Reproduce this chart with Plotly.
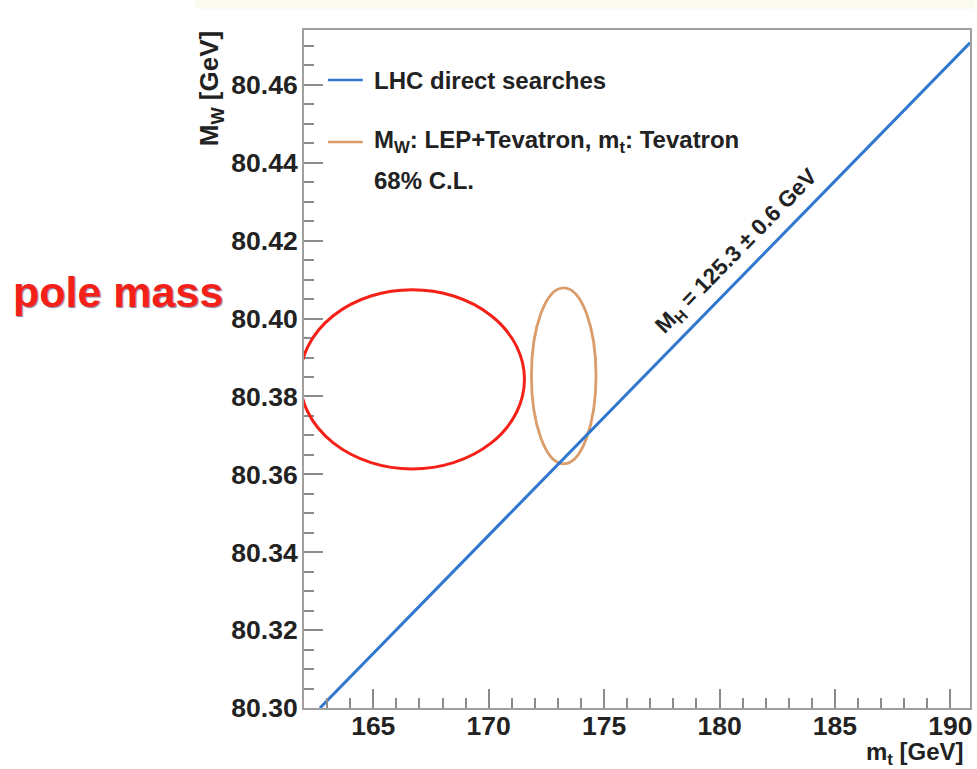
import plotly.graph_objects as go

# --- data -------------------------------------------------------------
# LHC direct searches: M_H = 125.3 +- 0.6 GeV line in the (m_t, M_W) plane
higgs_mt = [162.69, 190.85]
higgs_mw = [80.300, 80.4708]

# M_W (LEP+Tevatron), m_t (Tevatron) 68% C.L. ellipse: centre and half-axes
tev_center = [173.25, 80.3853]
tev_halfaxes = [1.40, 0.0226]

# "pole mass" region marked in red: centre and half-axes
pole_center = [166.69, 80.3844]
pole_halfaxes = [4.86, 0.0230]

# label position for the Higgs line
higgs_label_pos = [180.75, 80.4172]

x_range = [162.0, 190.85]
y_range = [80.300, 80.4741]
x_ticks = [165, 170, 175, 180, 185, 190]
y_ticks = [80.30, 80.32, 80.34, 80.36, 80.38, 80.40, 80.42, 80.44, 80.46]

# --- styling ----------------------------------------------------------
FONT = "Liberation Sans, Arial, Helvetica, sans-serif"
TXT = "#222222"
BLUE = "#2f77cf"
ORANGE = "#d99c6a"
RED = "#f52018"

# plot area in pixels
L, R, T, B = 304, 5, 30, 61
W, H = 977, 769
PW, PH = W - L - R, H - T - B


def px(xp):
    return (xp - L) / PW


def py(yp):
    return (H - B - yp) / PH


fig = go.Figure()

fig.add_trace(go.Scatter(
    x=higgs_mt, y=higgs_mw, mode="lines",
    line=dict(color=BLUE, width=3),
    showlegend=False, hoverinfo="skip",
))

shapes = []
# Tevatron ellipse
shapes.append(dict(
    type="circle", xref="x", yref="y", layer="below",
    x0=tev_center[0] - tev_halfaxes[0], x1=tev_center[0] + tev_halfaxes[0],
    y0=tev_center[1] - tev_halfaxes[1], y1=tev_center[1] + tev_halfaxes[1],
    line=dict(color=ORANGE, width=2.8),
))
# pole mass ellipse
shapes.append(dict(
    type="circle", xref="x", yref="y", layer="above",
    x0=pole_center[0] - pole_halfaxes[0], x1=pole_center[0] + pole_halfaxes[0],
    y0=pole_center[1] - pole_halfaxes[1], y1=pole_center[1] + pole_halfaxes[1],
    line=dict(color=RED, width=3),
))
# legend line samples
shapes.append(dict(type="line", xref="paper", yref="paper",
                   x0=px(328), x1=px(363), y0=py(80), y1=py(80),
                   line=dict(color=BLUE, width=2.5)))
shapes.append(dict(type="line", xref="paper", yref="paper",
                   x0=px(328), x1=px(363), y0=py(142), y1=py(142),
                   line=dict(color=ORANGE, width=2.5)))
# pale band along the top edge of the figure
shapes.append(dict(type="rect", xref="paper", yref="paper", layer="below",
                   x0=px(195), x1=px(W), y0=py(0), y1=py(9),
                   fillcolor="#fbfbef", line=dict(width=0)))

annotations = [
    # legend texts
    dict(xref="paper", yref="paper", x=px(372), y=py(80),
         xanchor="left", yanchor="middle", showarrow=False,
         text="LHC direct searches",
         font=dict(family=FONT, size=24, color=TXT, weight="bold")),
    dict(xref="paper", yref="paper", x=px(372), y=py(141),
         xanchor="left", yanchor="middle", showarrow=False,
         text="M<sub>W</sub>: LEP+Tevatron, m<sub>t</sub>: Tevatron",
         font=dict(family=FONT, size=24, color=TXT, weight="bold")),
    dict(xref="paper", yref="paper", x=px(372), y=py(181),
         xanchor="left", yanchor="middle", showarrow=False,
         text="68% C.L.",
         font=dict(family=FONT, size=24, color=TXT, weight="bold")),
    # Higgs line label
    dict(xref="x", yref="y", x=higgs_label_pos[0], y=higgs_label_pos[1],
         xanchor="center", yanchor="middle", showarrow=False, textangle=-45.6,
         text="M<sub>H</sub> = 125.3 \u00b1 0.6 GeV",
         font=dict(family=FONT, size=22.5, color=TXT, weight="bold")),
    # axis titles
    dict(xref="paper", yref="paper", x=px(211), y=py(89),
         xanchor="center", yanchor="middle", showarrow=False, textangle=-90,
         text="M<sub>W</sub> [GeV]",
         font=dict(family=FONT, size=26, color=TXT, weight="bold")),
    dict(xref="paper", yref="paper", x=px(917), y=py(753),
         xanchor="center", yanchor="middle", showarrow=False,
         text="m<sub>t</sub> [GeV]",
         font=dict(family=FONT, size=24, color=TXT, weight="bold")),
    # pole mass tag
    dict(xref="paper", yref="paper", x=px(117), y=py(292),
         xanchor="center", yanchor="middle", showarrow=False,
         text="pole mass",
         font=dict(family=FONT, size=43, color=RED, weight="bold",
                   shadow="1px 1px 1px rgba(30,30,90,0.55)")),
]

axis_common = dict(
    showgrid=False, zeroline=False,
    showline=True, linecolor="#a0a0a0", linewidth=2, mirror=True,
    ticks="inside", ticklen=19, tickwidth=1.5, tickcolor="#8c8c8c",
    tickfont=dict(family=FONT, size=26.5, color=TXT, weight="bold"),
)

fig.update_layout(
    width=W, height=H,
    margin=dict(l=L, r=R, t=T, b=B, pad=0),
    paper_bgcolor="white", plot_bgcolor="white",
    showlegend=False,
    shapes=shapes, annotations=annotations,
    xaxis=dict(range=x_range, tickvals=x_ticks,
               ticktext=[str(v) for v in x_ticks],
               ticklabelstandoff=-7,
               minor=dict(ticks="inside", ticklen=10, tickwidth=1.5,
                          tickcolor="#8c8c8c", dtick=1, tick0=165),
               **axis_common),
    yaxis=dict(range=y_range, tickvals=y_ticks,
               ticktext=[f"{v:.2f}" for v in y_ticks],
               ticklabelstandoff=-1,
               minor=dict(ticks="inside", ticklen=10, tickwidth=1.5,
                          tickcolor="#8c8c8c", dtick=0.005, tick0=80.30),
               **axis_common),
)

fig.write_html("out.html")
